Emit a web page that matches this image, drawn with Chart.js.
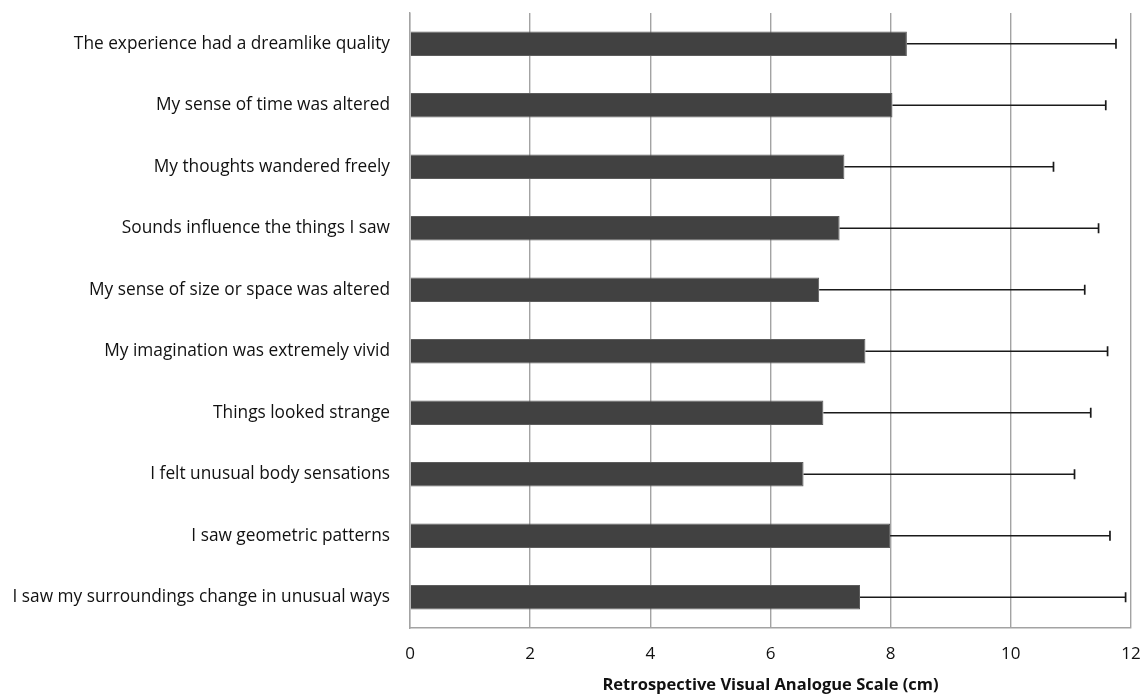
<!DOCTYPE html>
<html>
<head>
<meta charset="utf-8">
<script src="https://cdn.jsdelivr.net/npm/chart.js@4.4.1/dist/chart.umd.min.js"></script>
<style>
  html, body { margin: 0; padding: 0; background: #ffffff; }
  #wrap { width: 1144px; height: 696px; position: relative; }
</style>
</head>
<body>
<div id="wrap"><canvas id="chart" width="1144" height="696"></canvas></div>
<script>
// Experience items rated on the retrospective VAS
const items = [
  "The experience had a dreamlike quality",
  "My sense of time was altered",
  "My thoughts wandered freely",
  "Sounds influence the things I saw",
  "My sense of size or space was altered",
  "My imagination was extremely vivid",
  "Things looked strange",
  "I felt unusual body sensations",
  "I saw geometric patterns",
  "I saw my surroundings change in unusual ways"
];

// Mean rating (cm) per item
const meanScores = [8.27, 8.03, 7.23, 7.15, 6.81, 7.58, 6.88, 6.55, 7.99, 7.49];

// Standard deviation (cm) per item, drawn as a one-sided error bar
const sdScores = [3.48, 3.55, 3.48, 4.31, 4.42, 4.03, 4.45, 4.51, 3.66, 4.42];

// Axis ticks (cm)
const scaleTicks = [0, 2, 4, 6, 8, 10, 12];

const axisTitle = "Retrospective Visual Analogue Scale (cm)";

// Draws the positive error bar with an end cap for each bar
const errorBarPlugin = {
  id: 'errorBars',
  afterDatasetsDraw(chart) {
    const meta = chart.getDatasetMeta(0);
    const xScale = chart.scales.x;
    const ctx = chart.ctx;
    ctx.save();
    ctx.strokeStyle = '#1a1a1a';
    ctx.lineWidth = 1.7;
    meta.data.forEach((bar, i) => {
      const y = bar.y;
      const x0 = xScale.getPixelForValue(meanScores[i]);
      const x1 = xScale.getPixelForValue(meanScores[i] + sdScores[i]);
      ctx.beginPath();
      ctx.moveTo(x0, y);
      ctx.lineTo(x1, y);
      ctx.moveTo(x1, y - 5);
      ctx.lineTo(x1, y + 5);
      ctx.stroke();
    });
    ctx.restore();
  }
};

const fontFamily = "'Open Sans', 'Noto Sans', sans-serif";

new Chart(document.getElementById('chart'), {
  type: 'bar',
  data: {
    labels: items,
    datasets: [{
      data: meanScores,
      backgroundColor: '#414141',
      borderColor: '#5c5c5c',
      borderWidth: 1,
      borderSkipped: 'start',
      barPercentage: 0.8,
      categoryPercentage: 0.5
    }]
  },
  options: {
    indexAxis: 'y',
    responsive: false,
    animation: false,
    devicePixelRatio: 1,
    layout: { padding: { top: 13, right: 13, left: 0, bottom: 0 } },
    plugins: {
      legend: { display: false },
      tooltip: { enabled: false }
    },
    scales: {
      x: {
        min: 0,
        max: 12,
        afterFit(scale) {
          scale.height = 68;
          scale.paddingLeft = 0;
          scale.paddingRight = 0;
        },
        afterBuildTicks(scale) { scale.ticks = scaleTicks.map(v => ({ value: v })); },
        grid: {
          color: '#a3a3a3',
          lineWidth: 1.4,
          drawTicks: false
        },
        border: { color: '#a3a3a3', width: 1.4 },
        ticks: {
          padding: 16,
          color: '#111111',
          font: { family: fontFamily, size: 17 }
        },
        title: {
          display: true,
          text: axisTitle,
          color: '#111111',
          font: { family: fontFamily, size: 16.5, weight: 'bold' },
          padding: { top: 0, bottom: 1 }
        }
      },
      y: {
        afterFit(scale) {
          scale.width = 410;
          scale.paddingTop = 0;
          scale.paddingBottom = 0;
        },
        grid: { display: false, drawTicks: false },
        border: { color: '#a3a3a3', width: 1.4 },
        ticks: {
          padding: 20,
          color: '#111111',
          font: { family: fontFamily, size: 17.3 }
        }
      }
    }
  },
  plugins: [errorBarPlugin]
});
</script>
</body>
</html>
